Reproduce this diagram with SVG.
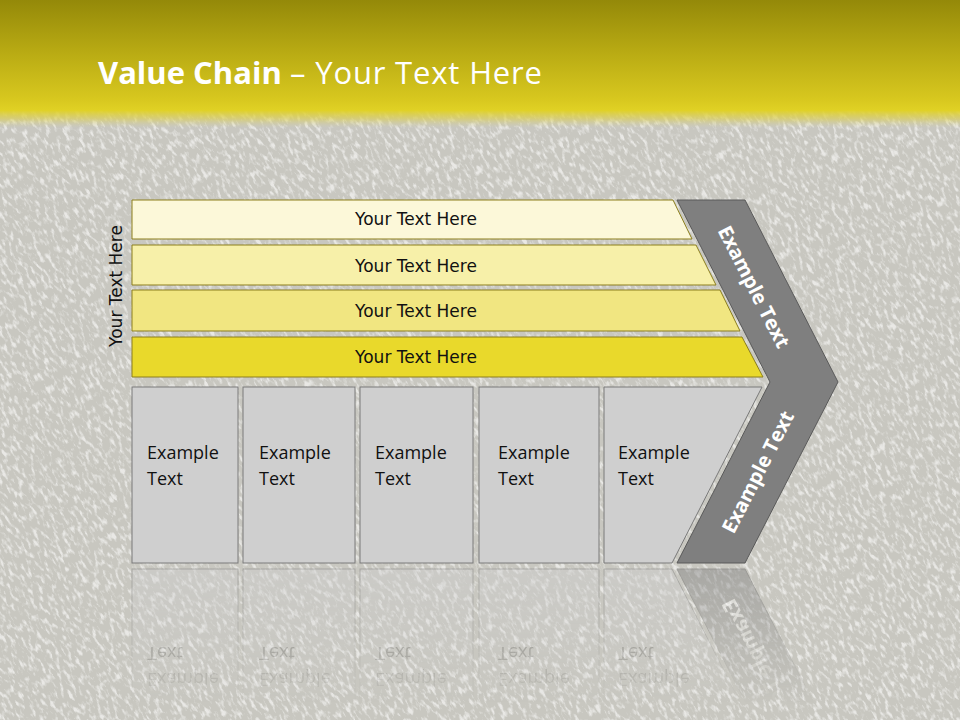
<svg xmlns="http://www.w3.org/2000/svg" xmlns:xlink="http://www.w3.org/1999/xlink" width="960" height="720" viewBox="0 0 960 720">
<defs>
<style>
.bar{stroke:#8c7f1c;stroke-width:1}
.bt{font-family:"DejaVu Sans",sans-serif;font-size:17px;fill:#111;text-anchor:middle}
.box{fill:#cfcfcf;stroke:#7a7a7a;stroke-width:1}
.xt{font-family:"Open Sans","Noto Sans",sans-serif;font-size:18px;fill:#111}
.chev{fill:#7f7f7f;stroke:#5a5a5a;stroke-width:1}
.ct{font-family:"Open Sans","Noto Sans",sans-serif;font-size:20px;font-weight:bold;fill:#fff;text-anchor:middle}
.ttl{font-family:"Open Sans","Noto Sans",sans-serif;font-size:31px;fill:#fff}
</style>
<linearGradient id="hdr" x1="0" y1="0" x2="0" y2="1">
<stop offset="0" stop-color="#948909"/>
<stop offset="0.4" stop-color="#b8aa13"/>
<stop offset="0.78" stop-color="#d8c81f"/>
<stop offset="0.86" stop-color="#e0d124"/>
<stop offset="0.93" stop-color="#ddd050" stop-opacity="0.6"/>
<stop offset="1" stop-color="#d8d4a0" stop-opacity="0"/>
</linearGradient>
<filter id="tex" x="0" y="0" width="100%" height="100%">
<feTurbulence type="fractalNoise" baseFrequency="0.3 0.12" numOctaves="3" seed="7"/>
<feColorMatrix type="matrix" values="0 0 0 0 1  0 0 0 0 1  0 0 0 0 1  4 0 0 0 -1.95"/>
</filter>
<linearGradient id="rg" gradientUnits="userSpaceOnUse" x1="0" y1="566" x2="0" y2="705">
<stop offset="0" stop-color="#fff" stop-opacity="0.45"/>
<stop offset="1" stop-color="#fff" stop-opacity="0"/>
</linearGradient>
<mask id="rm" maskUnits="userSpaceOnUse" x="0" y="566" width="960" height="154">
<rect x="0" y="566" width="960" height="154" fill="url(#rg)"/>
</mask>
</defs>

<rect width="960" height="720" fill="#c8c7c0"/>
<g transform="rotate(-30 480 360)">
<rect x="-300" y="-300" width="1560" height="1320" filter="url(#tex)" opacity="0.6"/>
</g>
<rect x="0" y="0" width="960" height="128" fill="url(#hdr)"/>

<g id="title">
<text class="ttl" x="98" y="84" font-weight="bold">Value Chain</text>
<text class="ttl" x="290" y="84" font-size="32" textLength="252" lengthAdjust="spacing">– Your Text Here</text>
</g>

<g id="side-label">
<text class="bt" transform="translate(122,286) rotate(-90)" x="0" y="0">Your Text Here</text>
</g>

<g id="bar1"><polygon class="bar" fill="#fcf8d9" points="132,200 673,200 692,239 132,239"/><text class="bt" x="416" y="225">Your Text Here</text></g>
<g id="bar2"><polygon class="bar" fill="#f7f0a9" points="132,245 696,245 716,285 132,285"/><text class="bt" x="416" y="272">Your Text Here</text></g>
<g id="bar3"><polygon class="bar" fill="#f1e681" points="132,290 720,290 740,331 132,331"/><text class="bt" x="416" y="317">Your Text Here</text></g>
<g id="bar4"><polygon class="bar" fill="#e9d92b" points="132,337 742,337 763,377 132,377"/><text class="bt" x="416" y="363">Your Text Here</text></g>

<g id="lower">
<g id="box1"><rect class="box" x="132" y="387" width="106" height="176"/><text class="xt" x="147" y="459">Example</text><text class="xt" x="147" y="485">Text</text></g>
<g id="box2"><rect class="box" x="243" y="387" width="112" height="176"/><text class="xt" x="259" y="459">Example</text><text class="xt" x="259" y="485">Text</text></g>
<g id="box3"><rect class="box" x="360" y="387" width="113" height="176"/><text class="xt" x="375" y="459">Example</text><text class="xt" x="375" y="485">Text</text></g>
<g id="box4"><rect class="box" x="479" y="387" width="120" height="176"/><text class="xt" x="498" y="459">Example</text><text class="xt" x="498" y="485">Text</text></g>
<g id="box5"><polygon class="box" points="604,387 762,387 672,563 604,563"/><text class="xt" x="618" y="459">Example</text><text class="xt" x="618" y="485">Text</text></g>
<g id="chevron"><polygon class="chev" points="677,200 745,200 838,382 745,563 677,563 770,382"/>
<text class="ct" transform="translate(754,287) rotate(63)" x="0" y="7">Example Text</text>
<text class="ct" transform="translate(758,472) rotate(-63)" x="0" y="7">Example Text</text></g>
</g>

<g id="reflection" mask="url(#rm)">
<use xlink:href="#lower" href="#lower" transform="translate(0,1132) scale(1,-1)"/>
</g>

<g id="connectors"></g>
</svg>
